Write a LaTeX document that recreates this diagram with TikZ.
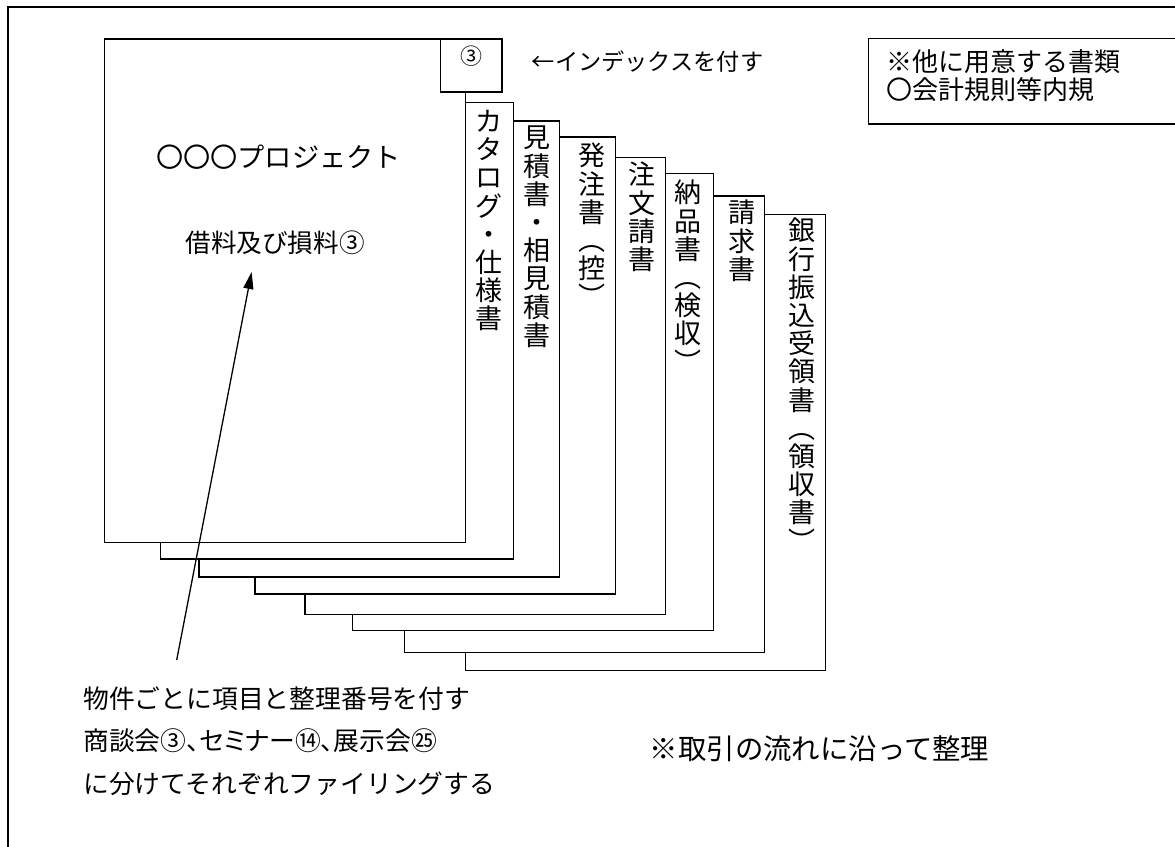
\documentclass[tikz,border=0pt]{standalone}
\usepackage{fontspec}
\setmainfont{Noto Sans CJK JP}
\newfontfamily\jpp{Noto Sans CJK JP}[RawFeature={+palt}]
\usetikzlibrary{positioning,arrows.meta}
\lineskiplimit=-100pt

\begin{document}
\begin{tikzpicture}[x=1pt,y=-1pt]
	\tikzset{Page/.style = {draw, fill=white, line width=1.3pt}}
	\tikzset{TabText/.style = {anchor=north, inner sep=0pt, align=center,
			font=\fontsize{27}{28.2}\selectfont}}
	\tikzset{Note/.style = {anchor=west, inner sep=0pt, font=\fontsize{25.8}{25.8}\selectfont}}
	\useasboundingbox (0,0) rectangle (1175,846);
	\clip (0,0) rectangle (1175,846);
	% frame
	\draw[line width=2pt] (8.3,870) |- (1200,6.7);
	% pages, back to front
	\foreach \l/\t/\r/\b in {465.3/214.3/825.5/670.3, 404.3/196/764.5/652.3,
			352.3/173.7/713.2/630.3, 305/157.3/665.7/614.3, 255/137/615.7/594,
			199/121/559.3/577, 160.7/102.7/513.3/559, 104.7/39/465.5/542.7}
		\draw[Page] (\l,\t) rectangle (\r,\b);
	\draw[Page] (440.7,39) rectangle (502,92);
	\node[inner sep=0pt, font=\fontsize{22}{22}\selectfont] (idx) at (471.7,56) {③};
	\node[Note, font=\fontsize{23.2}{23.2}\selectfont] (idxnote) at (531.7,61.7) {←インデックスを付す};
	% front page
	\node[inner sep=0pt, font=\fontsize{27.2}{27.2}\selectfont] (title) at (278.5,157) {〇〇〇プロジェクト};
	\node[inner sep=0pt, font=\fontsize{25.6}{25.6}\selectfont] (item) at (275,243) {借料及び損料③};
	% tabs
	\node[TabText] (cat) at (489.2,110) {カ\\タ\\ロ\\グ\\・\\仕\\様\\書};
	\node[TabText] (est) at (536.7,126) {見\\積\\書\\・\\相\\見\\積\\書};
	\node[TabText] (ord) at (591.7,143) {発\\注\\書\\︵\\控\\︶};
	\node[TabText] (ack) at (641.7,162) {注\\文\\請\\書};
	\node[TabText] (dlv) at (688.3,180) {納\\品\\書\\︵\\検\\収\\︶};
	\node[TabText] (inv) at (741.7,200) {請\\求\\書};
	\node[TabText] (rcp) at (801.5,218) {銀\\行\\振\\込\\受\\領\\書\\︵\\領\\収\\書\\︶};
	% other documents
	\draw[line width=1.3pt] (868.3,38.3) rectangle (1200,124);
	\node[Note, font=\fontsize{26}{26}\selectfont] (memo1) at (886.7,61.7) {※他に用意する書類};
	\node[Note, font=\fontsize{26}{26}\selectfont] (memo2) at (886.7,90) {〇会計規則等内規};
	% notes
	\node[Note] (note1) at (83,699) {物件ごとに項目と整理番号を付す};
	\node[Note, font=\jpp\fontsize{25.8}{25.8}\selectfont] (note2) at (83,741) {商談会③、セミナー⑭、展示会㉕};
	\node[Note] (note3) at (83,784) {に分けてそれぞれファイリングする};
	\node[inner sep=0pt, font=\fontsize{28.4}{28.4}\selectfont] (flow) at (819.5,749) {※取引の流れに沿って整理};
	\coordinate (tail) at (176.7,660);
	\coordinate (head) at (251.6,272);
	\draw[-{Triangle[length=17pt,width=10pt]}, line width=1.3pt] (tail) -- (head);
\end{tikzpicture}
\end{document}
